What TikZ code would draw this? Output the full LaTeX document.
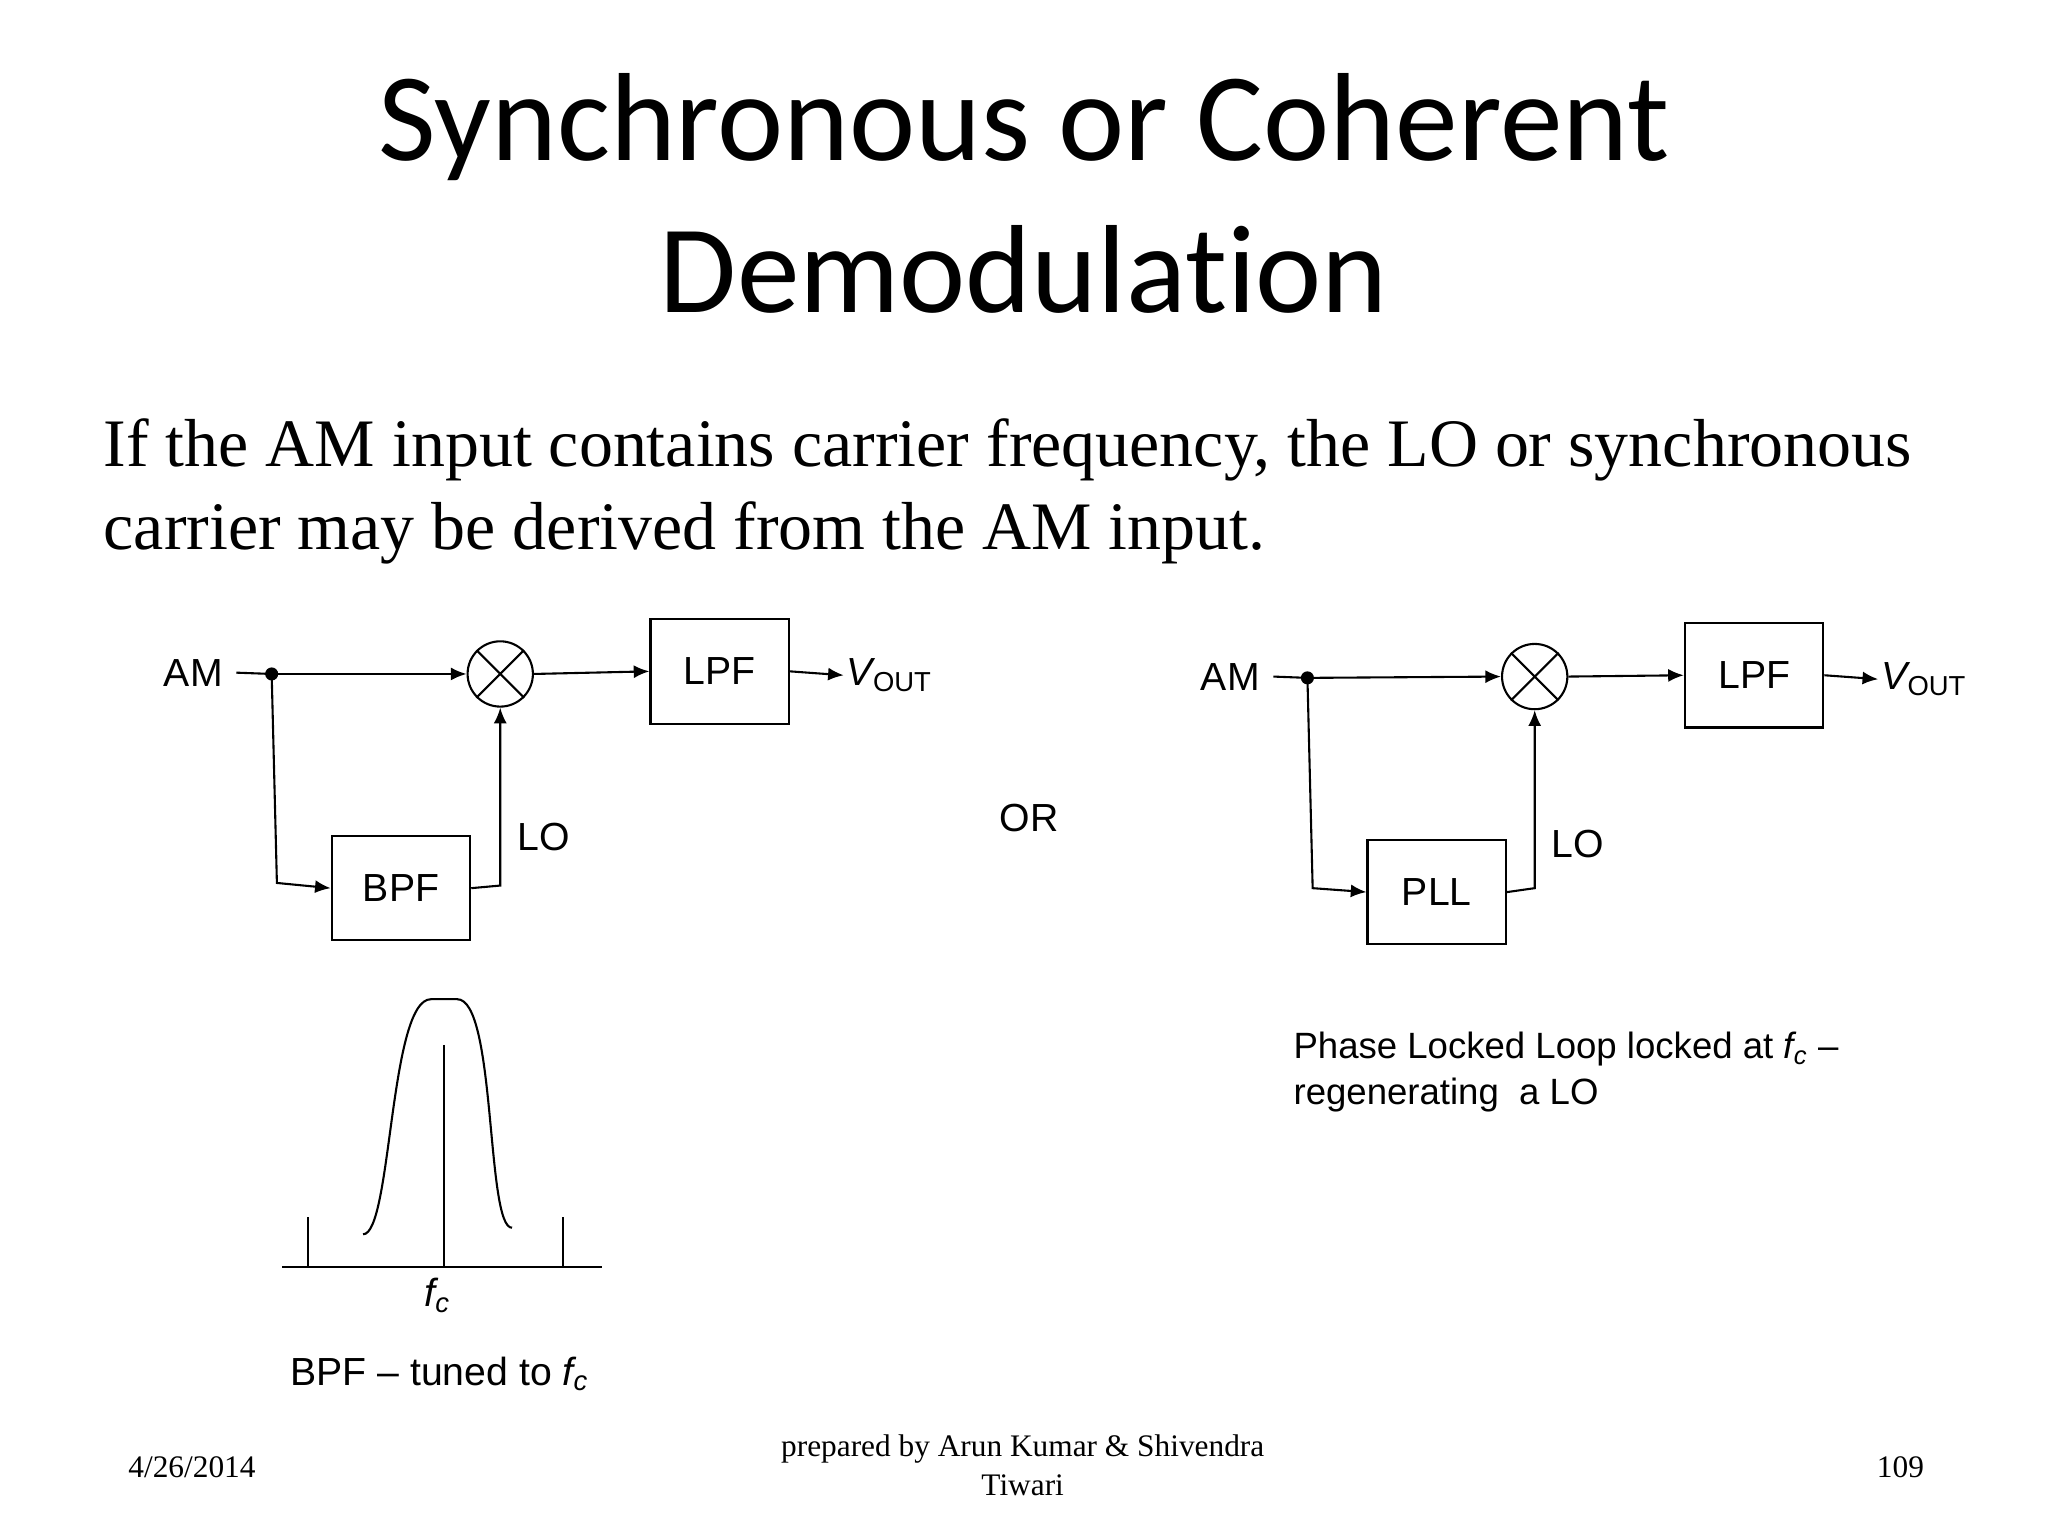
\documentclass[tikz,border=0pt]{standalone}
\usepackage{fontspec}
\setmainfont{Liberation Serif}
\setsansfont{Liberation Sans}
\newfontfamily\titlefont[Ligatures={NoCommon}]{Carlito}
\usetikzlibrary{arrows.meta}
\begin{document}
\begin{tikzpicture}[x=0.5pt,y=-0.5pt,
  lab/.style={font=\sffamily\fontsize{15}{17}\selectfont,inner sep=1pt},
  blk/.style={draw,thick,minimum width=53pt,minimum height=40pt,font=\sffamily\fontsize{15}{17}\selectfont},
  mix/.style={draw,thick,circle,minimum size=25pt,inner sep=0pt},
  arr/.style={thick,-{Latex[length=6pt,width=5pt]}},
  ln/.style={thick}]
\useasboundingbox (0,0) rectangle (1568,1176);
\node[font=\titlefont\fontsize{48}{58}\selectfont,align=center] (title) at (784,148) {Synchronous or Coherent\\Demodulation};
\node[font=\fontsize{26}{32}\selectfont,align=left,anchor=north west,inner sep=0pt] (body) at (79,320) {If the AM input contains carrier frequency, the LO or synchronous\\carrier may be derived from the AM input.};
% left
\node[lab,inner sep=5pt] (am1) at (148,515) {AM};
\fill (208,516) circle (5);
\coordinate (d1) at (208,516);
\node[mix] (m1) at (383,516) {};
\draw[thick] (m1.north west)--(m1.south east) (m1.north east)--(m1.south west);
\node[blk] (lpf1) at (551,514) {LPF};
\node[lab,anchor=west] (v1) at (646,517) {{\itshape V}\textsubscript{OUT}};
\node[blk] (bpf1) at (307,680) {BPF};
\node[lab] (lo1) at (416,641) {LO};
\draw[ln] (am1.east)--(d1);
\draw[arr] (d1)--(m1.west);
\draw[arr] (m1.east)--(lpf1.west);
\draw[arr] (lpf1.east)--(v1.west);
\draw[arr] (d1)--(212,676)--(bpf1.west);
\draw[arr] (bpf1.east)--(383,678)--(m1.south);
\node[lab] (or) at (788,626) {OR};
% right
\node[lab,inner sep=5pt] (am2) at (942,518) {AM};
\fill (1001,519) circle (5);
\coordinate (d2) at (1001,519);
\node[mix] (m2) at (1175,518) {};
\draw[thick] (m2.north west)--(m2.south east) (m2.north east)--(m2.south west);
\node[blk] (lpf2) at (1343,517) {LPF};
\node[lab,anchor=west] (v2) at (1438,520) {{\itshape V}\textsubscript{OUT}};
\node[blk] (pll) at (1100,683) {PLL};
\node[lab] (lo2) at (1208,646) {LO};
\draw[ln] (am2.east)--(d2);
\draw[arr] (d2)--(m2.west);
\draw[arr] (m2.east)--(lpf2.west);
\draw[arr] (lpf2.east)--(v2.west);
\draw[arr] (d2)--(1005,680)--(pll.west);
\draw[arr] (pll.east)--(1175,680)--(m2.south);
\node[lab,anchor=north west,align=left,font=\sffamily\fontsize{14}{17.5}\selectfont] (pt) at (988,788) {Phase Locked Loop locked at {\itshape f\textsubscript{c}} –\\regenerating\ \ a LO};
% BPF response
\draw[thick] (216,970)--(461,970);
\draw[thick] (236,932)--(236,970) (431,932)--(431,970) (340,800)--(340,970);
\draw[thick] (278,945) .. controls (300,945) and (298,765) .. (330,765) -- (350,765) .. controls (380,765) and (372,940) .. (392,940);
\node[lab] (fc) at (335,992) {{\itshape f\textsubscript{c}}};
\node[lab,anchor=west] (bt) at (220,1052) {BPF – tuned to {\itshape f\textsubscript{c}}};
% footer
\node[font=\fontsize{12}{15}\selectfont] (date) at (147,1123) {4/26/2014};
\node[font=\fontsize{12}{15}\selectfont,align=center] (prep) at (783,1122) {prepared by Arun Kumar \& Shivendra\\Tiwari};
\node[font=\fontsize{12}{15}\selectfont] (pg) at (1455,1123) {109};
\end{tikzpicture}
\end{document}
